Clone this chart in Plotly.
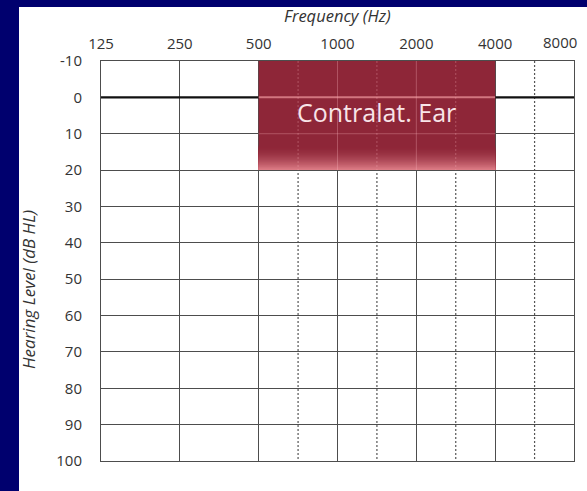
import math
import plotly.graph_objects as go

# ---- data ----
freq_ticks = [125, 250, 500, 1000, 2000, 4000, 8000]
freq_labels = ["125", "250", "500", "1000", "2000", "4000", "8000"]
level_ticks = [-10, 0, 10, 20, 30, 40, 50, 60, 70, 80, 90, 100]
level_labels = ["-10", "0", "10", "20", "30", "40", "50", "60", "70", "80", "90", "100"]
contra_freq = [500, 4000]       # contralateral-ear region, Hz
contra_level = [-10, 20]        # dB HL
contra_label = "Contralat. Ear"
reference_level = 0             # thick 0 dB HL line
label_level = 4

NAVY = "#00006E"
GRID = "#4d4d4d"
RED_TOP = (142, 38, 56)
RED_BOTTOM = (222, 125, 135)
TXT = "#333333"
FONT = "Open Sans"

# half-octave (interoctave) positions between octave ticks
half_octaves = [math.sqrt(a * b) for a, b in zip(freq_ticks[2:-1], freq_ticks[3:])]

W, H = 587, 491
ML, MR, MT, MB = 101, 13, 61, 30
pw, ph = W - ML - MR, H - MT - MB

fig = go.Figure()

# thick reference line at 0 dB HL
fig.add_trace(go.Scatter(
    x=[freq_ticks[0], freq_ticks[-1]], y=[reference_level, reference_level],
    mode="lines", line=dict(color="#111111", width=2.2),
    hoverinfo="skip", showlegend=False))

shapes = []
# white sheet on navy background
shapes.append(dict(type="rect", xref="paper", yref="paper",
                   x0=(19 - ML) / pw, x1=(W + 5 - ML) / pw,
                   y0=-(MB + 5) / ph, y1=(H - 7 - MB) / ph,
                   fillcolor="white", line=dict(width=0), layer="below"))

# dashed interoctave lines
for f in half_octaves:
    shapes.append(dict(type="line", xref="x", yref="y",
                       x0=f, x1=f, y0=level_ticks[0], y1=level_ticks[-1],
                       line=dict(color="#555555", width=1.2, dash="2px,2px"),
                       layer="below"))

# contralateral region, solid body + gradient towards the bottom edge
lo, hi = contra_level
fade_start = hi - 7
shapes.append(dict(type="rect", xref="x", yref="y",
                   x0=contra_freq[0], x1=contra_freq[1], y0=lo, y1=hi,
                   fillcolor="rgb(%d,%d,%d)" % RED_TOP, line=dict(width=0),
                   layer="above"))
n = 28
for i in range(1, n):
    t = i / (n - 1)
    t2 = t ** 1.8
    c = tuple(int(RED_TOP[k] + (RED_BOTTOM[k] - RED_TOP[k]) * t2) for k in range(3))
    shapes.append(dict(type="rect", xref="x", yref="y",
                       x0=contra_freq[0], x1=contra_freq[1],
                       y0=fade_start + (hi - fade_start) * i / n, y1=hi,
                       fillcolor="rgb(%d,%d,%d)" % c, line=dict(width=0),
                       layer="above"))

# faint grid lines visible through the region
OVER = "rgba(255,190,195,0.3)"
for f in freq_ticks:
    if contra_freq[0] < f < contra_freq[1]:
        shapes.append(dict(type="line", xref="x", yref="y",
                           x0=f, x1=f, y0=lo, y1=hi,
                           line=dict(color=OVER, width=1), layer="above"))
for f in half_octaves:
    if contra_freq[0] < f < contra_freq[1]:
        shapes.append(dict(type="line", xref="x", yref="y",
                           x0=f, x1=f, y0=lo, y1=hi,
                           line=dict(color=OVER, width=1, dash="2px,2px"), layer="above"))
for lv in level_ticks:
    if lo < lv < hi:
        shapes.append(dict(type="line", xref="x", yref="y",
                           x0=contra_freq[0], x1=contra_freq[1], y0=lv, y1=lv,
                           line=dict(color="rgba(255,170,175,0.6)" if lv == reference_level else OVER,
                                     width=2 if lv == reference_level else 1),
                           layer="above"))

fig.update_layout(
    width=W, height=H,
    margin=dict(l=ML, r=MR, t=MT, b=MB, pad=0),
    paper_bgcolor=NAVY, plot_bgcolor="white",
    font=dict(family=FONT, color=TXT, size=15),
    shapes=shapes,
    showlegend=False,
    xaxis=dict(type="log", side="top",
               range=[math.log10(freq_ticks[0]), math.log10(freq_ticks[-1])],
               tickvals=freq_ticks, ticktext=freq_labels[:-1] + [""],
               showgrid=True, gridcolor=GRID, gridwidth=1,
               showline=True, linecolor=GRID, linewidth=1, mirror=True,
               zeroline=False, ticks="", ticklabelstandoff=5,
               tickfont=dict(size=15, color=TXT)),
    yaxis=dict(range=[level_ticks[-1], level_ticks[0]],
               tickvals=level_ticks, ticktext=level_labels,
               showgrid=True, gridcolor=GRID, gridwidth=1,
               showline=True, linecolor=GRID, linewidth=1, mirror=True,
               zeroline=False, ticks="", ticklabelstandoff=15,
               tickfont=dict(size=15, color=TXT)),
    annotations=[
        dict(text=freq_labels[-1], xref="x", yref="paper",
             x=math.log10(freq_ticks[-1]), y=1, xshift=5, yshift=7,
             showarrow=False, xanchor="right", yanchor="bottom",
             font=dict(size=15, color=TXT)),
        dict(text="<i>Frequency (Hz)</i>", xref="paper", yref="paper",
             x=0.5, y=(H - 15 - MB) / ph, showarrow=False,
             font=dict(size=16.5, color=TXT), xanchor="center", yanchor="middle"),
        dict(text="<i>Hearing Level (dB HL)</i>", xref="paper", yref="paper",
             x=(28 - ML) / pw, y=(H - 290 - MB) / ph, textangle=-90, showarrow=False,
             font=dict(size=17, color=TXT), xanchor="center", yanchor="middle"),
        dict(text=contra_label, xref="x", yref="y",
             x=0.5 * (math.log10(contra_freq[0]) + math.log10(contra_freq[1])),
             y=label_level, showarrow=False,
             font=dict(size=25, color="rgb(248,228,232)"),
             xanchor="center", yanchor="middle"),
    ],
)

fig.write_html(
    "out.html",
    config={"displayModeBar": False},
    post_script="document.body.style.margin='0';document.body.style.padding='0';"
                "document.body.style.overflow='hidden';"
                "document.body.style.background='%s';" % NAVY,
)
